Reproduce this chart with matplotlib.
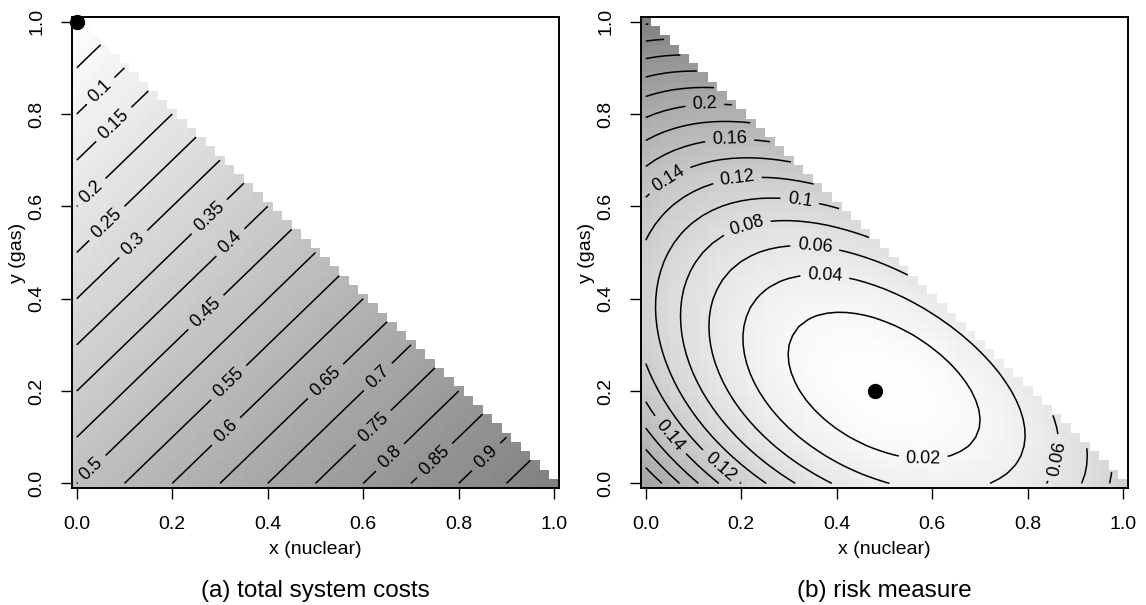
import numpy as np
import matplotlib
matplotlib.use("Agg")
import matplotlib.pyplot as plt
from matplotlib.colors import LinearSegmentedColormap

plt.rcParams['font.family'] = ['Liberation Sans', 'DejaVu Sans']

# unit cost of each technology (x = nuclear share, y = gas share, rest = coal)
techs = ['nuclear', 'gas', 'coal']
unit_cost = [1.0, 0.0, 0.5]

# risk measure: points (level, x, y)
risk_lvl = ([0.02] * 10 + [0.04] * 11 + [0.06] * 9 + [0.08] * 9 + [0.10] * 7 +
            [0.12] * 7 + [0.14] * 7 + [0.16] * 5 + [0.18] * 4 + [0.20] * 5 +
            [0.22] * 2 + [0.24] * 2 + [0.26] * 2 + [0.28] * 1)
risk_x = [0.284, 0.525, 0.581, 0.644, 0.699, 0.658, 0.364, 0.434, 0.574, 0.685,
          0.375, 0.211, 0.203, 0.206, 0.511, 0.734, 0.790, 0.748, 0.434, 0.644, 0.769,
          0.354, 0.148, 0.141, 0.143, 0.389, 0.413, 0.532, 0.853, 0.850,
          0.214, 0.085, 0.078, 0.082, 0.316, 0.364, 0.455, 0.916, 0.926,
          0.322, 0.025, 0.022, 0.253, 0.381, 0.396, 0.979,
          0.0, 0.119, 0.159, 0.0, 0.253, 0.347, 0.193,
          0.0, 0.151, 0.054, 0.0, 0.05, 0.099, 0.302,
          0.0, 0.110, 0.0, 0.176, 0.245,
          0.0, 0.068, 0.0, 0.218,
          0.0, 0.03, 0.0, 0.124, 0.176,
          0.0, 0.141,
          0.0, 0.106,
          0.0, 0.068,
          0.0]
risk_y = [0.295, 0.056, 0.053, 0.056, 0.129, 0.223, 0.380, 0.374, 0.309, 0.179,
          0.448, 0.338, 0.288, 0.439, 0.0, 0.002, 0.114, 0.223, 0.446, 0.331, 0.179,
          0.511, 0.360, 0.288, 0.439, 0.0, 0.506, 0.465, 0.056, 0.151,
          0.548, 0.418, 0.288, 0.439, 0.0, 0.562, 0.544, 0.002, 0.078,
          0.609, 0.433, 0.316, 0.0, 0.606, 0.604, 0.0,
          0.270, 0.078, 0.038, 0.533, 0.658, 0.652, 0.649,
          0.183, 0.0, 0.107, 0.623, 0.656, 0.685, 0.699,
          0.121, 0.0, 0.691, 0.735, 0.739,
          0.0745, 0.0, 0.746, 0.780,
          0.03, 0.0, 0.792, 0.815, 0.818,
          0.836, 0.857,
          0.878, 0.894,
          0.923, 0.932,
          0.961]

opt_cost = (0.0, 1.0)
opt_risk = (0.48, 0.20)

cost_levels = np.round(np.arange(0.05, 0.951, 0.05), 2)
risk_levels = np.round(np.arange(0.02, 0.301, 0.02), 2)

# label positions as seen in the picture
cost_lab_pos = [(0.049, 0.85), (0.076, 0.779), (0.031, 0.631), (0.063, 0.563),
                (0.115, 0.522), (0.279, 0.576), (0.314, 0.530), (0.283, 0.357),
                (0.031, 0.031), (0.321, 0.215), (0.314, 0.111), (0.523, 0.219),
                (0.635, 0.226), (0.621, 0.121), (0.656, 0.056), (0.743, 0.056),
                (0.851, 0.064)]
risk_lab_pos = [(0.124, 0.815), (0.176, 0.735), (0.05, 0.656), (0.193, 0.649),
                (0.322, 0.609), (0.214, 0.548), (0.354, 0.511), (0.375, 0.448),
                (0.581, 0.053), (0.853, 0.056), (0.054, 0.107), (0.159, 0.038)]

# grid of shares
g = np.round(np.arange(0, 1.0001, 0.02), 2)
X, Y = np.meshgrid(g, g)
outside = X + Y > 1 + 1e-9
edges = np.arange(-0.01, 1.0201, 0.02)

cost = unit_cost[0] * X + unit_cost[1] * Y + unit_cost[2] * (1 - X - Y)


def terms(x, y):
    x = np.asarray(x, float)
    y = np.asarray(y, float)
    return np.stack([x ** i * y ** j for i in range(4) for j in range(4 - i)], axis=-1)


coef, *_ = np.linalg.lstsq(terms(risk_x, risk_y), np.array(risk_lvl), rcond=None)
risk = terms(X, Y) @ coef

cmap = LinearSegmentedColormap.from_list('grey', ['#fefefe', '#818181'])

fig = plt.figure(figsize=(11.46, 6.05), dpi=100)
ax_a = fig.add_axes([72 / 1146, 117 / 605, 487 / 1146, 471 / 605])
ax_b = fig.add_axes([641 / 1146, 117 / 605, 487 / 1146, 471 / 605])

panels = [(ax_a, cost, cost_levels, cost_lab_pos, opt_cost, '(a) total system costs'),
          (ax_b, risk, risk_levels, risk_lab_pos, opt_risk, '(b) risk measure')]

for ax, Z, levels, lab_pos, opt, caption in panels:
    Zm = np.ma.masked_where(outside, Z)
    ax.pcolormesh(edges, edges, Zm, cmap=cmap, vmin=Zm.min(), vmax=Zm.max(),
                  shading='flat')
    cs = ax.contour(g, g, Zm, levels=levels, colors='k', linewidths=1.1)
    ax.clabel(cs, manual=lab_pos, inline=True, inline_spacing=7,
              fmt=lambda v: f'{v:g}', fontsize=13)
    ax.plot(opt[0], opt[1], 'o', color='k', ms=10, clip_on=False, zorder=5)

    ax.set_xlim(-0.01, 1.01)
    ax.set_ylim(-0.01, 1.01)
    ticks = np.round(np.arange(0, 1.01, 0.2), 1)
    ax.set_xticks(ticks)
    ax.set_yticks(ticks)
    ax.set_xticklabels([f'{t:.1f}' for t in ticks])
    ax.set_yticklabels([f'{t:.1f}' for t in ticks], rotation=90, va='center')
    ax.tick_params(direction='out', length=8, width=1, labelsize=14)
    ax.tick_params(axis='x', pad=12)
    ax.tick_params(axis='y', pad=11)
    for s in ax.spines.values():
        s.set_linewidth(1.4)

    ax.set_xlabel('x (nuclear)', fontsize=14)
    ax.set_ylabel('y (gas)', fontsize=14)
    ax.xaxis.set_label_coords(0.5, -0.112)
    ax.yaxis.set_label_coords(-0.095, 0.5)

    pos = ax.get_position()
    fig.text((pos.x0 + pos.x1) / 2, 1 - 591 / 605, caption, ha='center',
             va='center', fontsize=17.5)

fig.savefig('out.png', dpi=100)
